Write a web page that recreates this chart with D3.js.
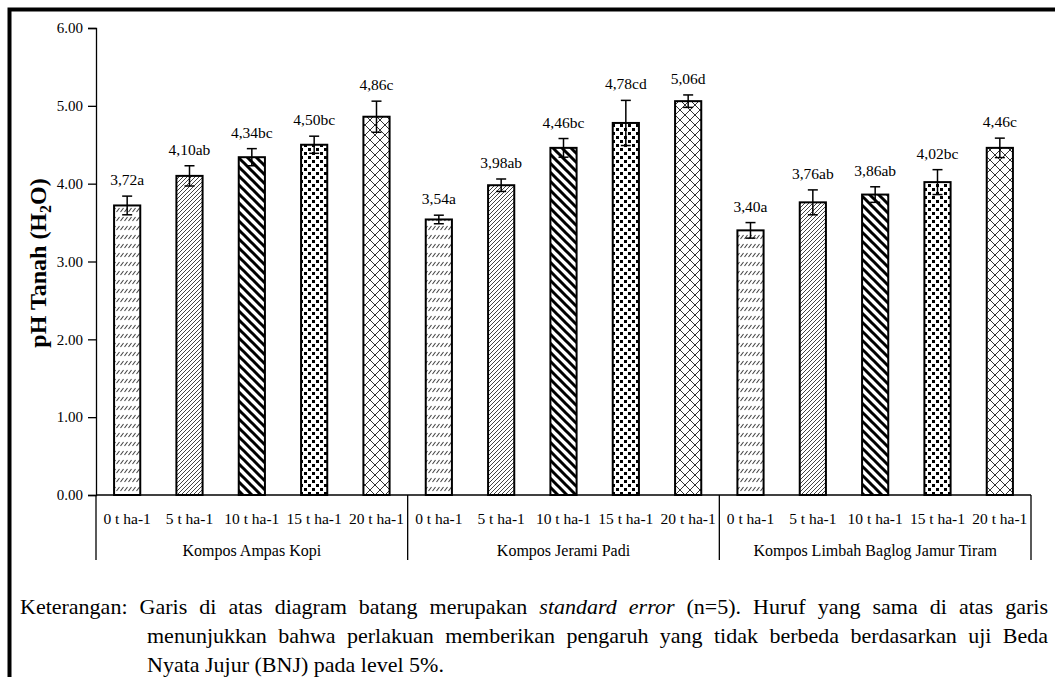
<!DOCTYPE html>
<html>
<head>
<meta charset="utf-8">
<script src="https://cdn.jsdelivr.net/npm/d3@7"></script>
<style>
  body { margin: 0; background: #fff; }
  svg { display: block; font-family: "Liberation Serif", "Times New Roman", serif; }
</style>
</head>
<body>
<div class="container"></div>
<script>
var width = 1055;
var height = 677;

// data
var groups = ['Kompos Ampas Kopi', 'Kompos Jerami Padi', 'Kompos Limbah Baglog Jamur Tiram'];
var doses = ['0 t ha-1', '5 t ha-1', '10 t ha-1', '15 t ha-1', '20 t ha-1'];
var ampasKopi = [3.72, 4.10, 4.34, 4.50, 4.86];
var jeramiPadi = [3.54, 3.98, 4.46, 4.78, 5.06];
var baglog = [3.40, 3.76, 3.86, 4.02, 4.46];
var seAmpasKopi = [0.12, 0.13, 0.11, 0.11, 0.20];
var seJeramiPadi = [0.055, 0.08, 0.12, 0.29, 0.08];
var seBaglog = [0.10, 0.16, 0.10, 0.16, 0.125];
var letterAmpasKopi = ['a', 'ab', 'bc', 'bc', 'c'];
var letterJeramiPadi = ['a', 'ab', 'bc', 'cd', 'd'];
var letterBaglog = ['a', 'ab', 'ab', 'bc', 'c'];
var yTicks = [0, 1, 2, 3, 4, 5, 6];

var values = [ampasKopi, jeramiPadi, baglog];
var errors = [seAmpasKopi, seJeramiPadi, seBaglog];
var letters = [letterAmpasKopi, letterJeramiPadi, letterBaglog];

var rows = [];
groups.forEach(function(g, gi) {
  doses.forEach(function(d, di) {
    rows.push({key: gi + '-' + di, group: gi, dose: di, label: d,
      v: values[gi][di], se: errors[gi][di], letter: letters[gi][di]});
  });
});

var translate = function(x, y) {
  return 'translate(' + x + ',' + y + ')';
};

var svg = d3.select('.container').append('svg')
  .attr('width', width)
  .attr('height', height);

svg.append('rect').attr('width', width).attr('height', height).attr('fill', '#fff');

// hatch patterns, one per dose
var defs = svg.append('defs');

var p0 = defs.append('pattern').attr('id', 'pat0').attr('patternUnits', 'userSpaceOnUse')
  .attr('width', 4).attr('height', 9);
p0.append('rect').attr('width', 4).attr('height', 9).attr('fill', '#fff');
p0.append('path').attr('d', 'M0.5,5 L3.5,1').attr('stroke', '#444').attr('stroke-width', 1.1);

var p1 = defs.append('pattern').attr('id', 'pat1').attr('patternUnits', 'userSpaceOnUse')
  .attr('width', 4).attr('height', 4);
p1.append('rect').attr('width', 4).attr('height', 4).attr('fill', '#fff');
p1.append('path').attr('d', 'M-1,5 L5,-1 M-1,1 L1,-1 M3,5 L5,3').attr('stroke', '#444').attr('stroke-width', 1);

var p2 = defs.append('pattern').attr('id', 'pat2').attr('patternUnits', 'userSpaceOnUse')
  .attr('width', 9).attr('height', 9);
p2.append('rect').attr('width', 9).attr('height', 9).attr('fill', '#fff');
p2.append('path').attr('d', 'M-2,-2 L11,11 M-2,7 L2,11 M7,-2 L11,2').attr('stroke', '#000').attr('stroke-width', 3);

var p3 = defs.append('pattern').attr('id', 'pat3').attr('patternUnits', 'userSpaceOnUse')
  .attr('width', 8).attr('height', 8);
p3.append('rect').attr('width', 8).attr('height', 8).attr('fill', '#fff');
p3.append('rect').attr('x', 0).attr('y', 0).attr('width', 3).attr('height', 3).attr('fill', '#000');
p3.append('rect').attr('x', 4).attr('y', 4).attr('width', 3).attr('height', 3).attr('fill', '#000');

var p4 = defs.append('pattern').attr('id', 'pat4').attr('patternUnits', 'userSpaceOnUse')
  .attr('width', 10).attr('height', 10);
p4.append('rect').attr('width', 10).attr('height', 10).attr('fill', '#fff');
p4.append('path').attr('d', 'M0,0 L10,10 M10,0 L0,10').attr('stroke', '#333').attr('stroke-width', 1);

// frame (top and left edges visible)
svg.append('path')
  .attr('d', 'M9.5,' + height + ' L9.5,9.5 L' + width + ',9.5')
  .attr('fill', 'none').attr('stroke', '#000').attr('stroke-width', 4);

var x0 = 96, x1 = 1031, yTop = 28, yBase = 495;

var XScale = d3.scaleBand()
  .domain(rows.map(function(d) { return d.key; }))
  .range([x0, x1])
  .paddingInner(0.58)
  .paddingOuter(0.29);

var YScale = d3.scaleLinear()
  .domain([0, 6])
  .range([yBase, yTop]);

var yAxis = d3.axisLeft(YScale)
  .tickValues(yTicks)
  .tickSize(8)
  .tickPadding(5)
  .tickFormat(d3.format('.2f'));

var yg = svg.append('g')
  .attr('transform', translate(x0, 0))
  .call(yAxis);
yg.select('.domain').attr('stroke', '#000').attr('stroke-width', 1.3);
yg.selectAll('.tick line').attr('stroke', '#000').attr('stroke-width', 1.3);
yg.selectAll('.tick text').attr('font-size', 15).attr('fill', '#000')
  .attr('font-family', '"Liberation Serif", serif');

// y title
var title = svg.append('text')
  .attr('transform', translate(46, 263) + ' rotate(-90)')
  .attr('text-anchor', 'middle')
  .attr('font-size', 24)
  .attr('font-weight', 'bold');
title.append('tspan').text('pH Tanah (H');
title.append('tspan').attr('font-size', 16).attr('dy', 5).text('2');
title.append('tspan').attr('dy', -5).text('O)');

// bars
var step = XScale.step();
svg.append('g').selectAll('rect').data(rows).enter().append('rect')
  .attr('x', function(d) { return XScale(d.key); })
  .attr('y', function(d) { return YScale(d.v); })
  .attr('width', XScale.bandwidth())
  .attr('height', function(d) { return YScale(0) - YScale(d.v); })
  .attr('fill', function(d) { return 'url(#pat' + d.dose + ')'; })
  .attr('stroke', '#000')
  .attr('stroke-width', 2);

// error bars
var eb = svg.append('g').selectAll('g').data(rows).enter().append('g')
  .attr('stroke', '#000').attr('stroke-width', 1.5);
var cx = function(d) { return XScale(d.key) + XScale.bandwidth() / 2; };
eb.append('line')
  .attr('x1', cx).attr('x2', cx)
  .attr('y1', function(d) { return YScale(d.v + d.se); })
  .attr('y2', function(d) { return YScale(d.v - d.se); });
eb.append('line')
  .attr('x1', function(d) { return cx(d) - 5; }).attr('x2', function(d) { return cx(d) + 5; })
  .attr('y1', function(d) { return YScale(d.v + d.se); })
  .attr('y2', function(d) { return YScale(d.v + d.se); });
eb.append('line')
  .attr('x1', function(d) { return cx(d) - 5; }).attr('x2', function(d) { return cx(d) + 5; })
  .attr('y1', function(d) { return YScale(d.v - d.se); })
  .attr('y2', function(d) { return YScale(d.v - d.se); });

// value labels
svg.append('g').selectAll('text').data(rows).enter().append('text')
  .attr('x', cx)
  .attr('y', function(d) { return YScale(d.v + d.se) - 11; })
  .attr('text-anchor', 'middle')
  .attr('font-size', 15.5)
  .text(function(d) { return d.v.toFixed(2).replace('.', ',') + d.letter; });

// x axis with grouped categories
var xg = svg.append('g').attr('stroke', '#000').attr('stroke-width', 1.3);
xg.append('line').attr('x1', x0).attr('x2', x1).attr('y1', yBase).attr('y2', yBase);
d3.range(groups.length + 1).forEach(function(i) {
  var xx = i < groups.length ? XScale(i + '-0') - XScale.paddingOuter() * step : x1;
  xg.append('line').attr('x1', xx).attr('x2', xx).attr('y1', yBase).attr('y2', 560);
});

svg.append('g').selectAll('text').data(rows).enter().append('text')
  .attr('x', cx)
  .attr('y', 524)
  .attr('text-anchor', 'middle')
  .attr('font-size', 15.5)
  .text(function(d) { return d.label; });

svg.append('g').selectAll('text').data(groups).enter().append('text')
  .attr('x', function(d, i) {
    var a = XScale(i + '-0'), b = XScale(i + '-4') + XScale.bandwidth();
    return (a + b) / 2;
  })
  .attr('y', 556)
  .attr('text-anchor', 'middle')
  .attr('font-size', 16)
  .text(function(d) { return d; });

// caption, justified lines
var capSize = 22;
var justify = function(t, target) {
  var natural = t.node().getComputedTextLength();
  var spaces = (t.text().match(/ /g) || []).length;
  if (spaces > 0) t.attr('word-spacing', (target - natural) / spaces);
};

var c1 = svg.append('text').attr('x', 20).attr('y', 614).attr('font-size', capSize);
c1.append('tspan').text('Keterangan: Garis di atas diagram batang merupakan ');
c1.append('tspan').attr('font-style', 'italic').text('standard error');
c1.append('tspan').text(' (n=5). Huruf yang sama di atas garis');
justify(c1, 1048 - 20);

var c2 = svg.append('text').attr('x', 147).attr('y', 643).attr('font-size', capSize)
  .text('menunjukkan bahwa perlakuan memberikan pengaruh yang tidak berbeda berdasarkan uji Beda');
justify(c2, 1048 - 147);

svg.append('text').attr('x', 147).attr('y', 672).attr('font-size', capSize)
  .text('Nyata Jujur (BNJ) pada level 5%.');
</script>
</body>
</html>
